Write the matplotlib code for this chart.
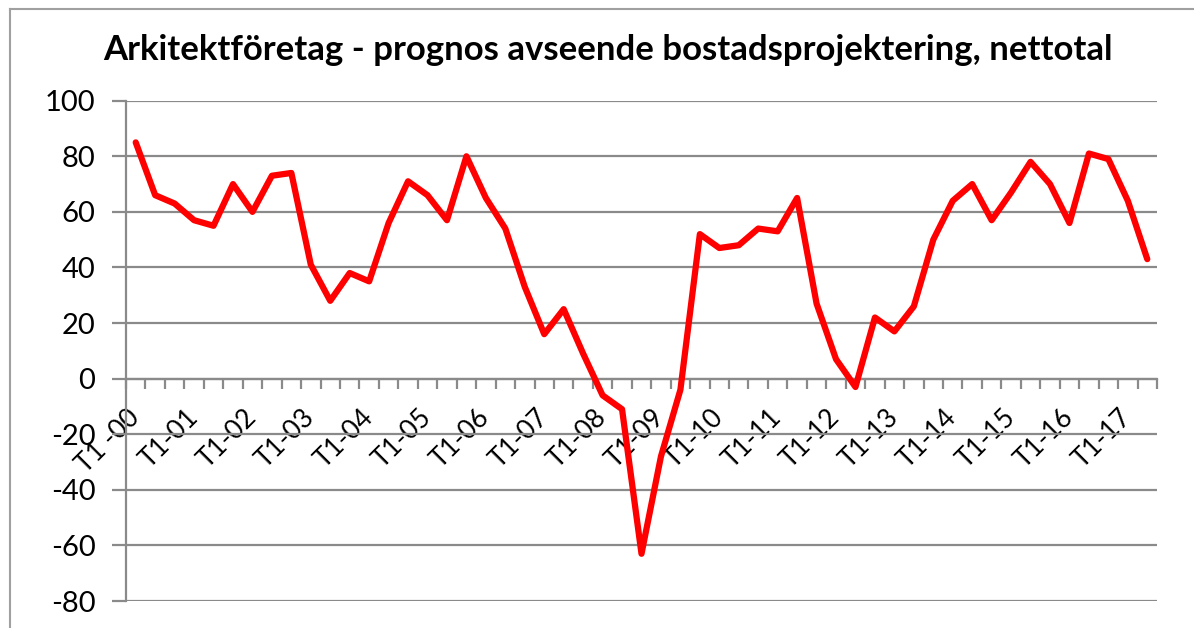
import matplotlib
matplotlib.use('Agg')
import matplotlib.pyplot as plt
from matplotlib.lines import Line2D

# net balance per tertial, T1-00 .. T2-17
values = [85, 66, 63, 57, 55, 70, 60, 73, 74, 41, 28, 38, 35, 56,
          71, 66, 57, 80, 65, 54, 33, 16, 25, 9, -6, -11, -63, -28,
          -4, 52, 47, 48, 54, 53, 65, 27, 7, -3, 22, 17, 26, 50,
          64, 70, 57, 67, 78, 70, 56, 81, 79, 64, 43]
years = ['00', '01', '02', '03', '04', '05', '06', '07', '08',
         '09', '10', '11', '12', '13', '14', '15', '16', '17']
tick_labels = ['T1 -' + years[0]] + ['T1-' + y for y in years[1:]]
yticks = [-80, -60, -40, -20, 0, 20, 40, 60, 80, 100]
title = 'Arkitektföretag - prognos avseende bostadsprojektering, nettotal'

plt.rcParams['font.family'] = ['Lato', 'DejaVu Sans']
plt.rcParams['axes.unicode_minus'] = False
grid_c = '#8a8a8a'

fig = plt.figure(figsize=(11.94, 6.28), dpi=100)
ax = fig.add_axes([126 / 1194, 27 / 628, (1157 - 126) / 1194, (601 - 100.7) / 628])

x = list(range(len(values)))
ax.plot(x, values, color='#ff0000', lw=4.5, solid_joinstyle='round',
        solid_capstyle='round', zorder=3)

ax.set_xlim(-0.5, len(values) - 0.5)
ax.set_ylim(-80, 100)
ax.set_yticks(yticks)
ax.yaxis.grid(True, color=grid_c, lw=1.6)
ax.set_axisbelow(True)

for s in ['top', 'right']:
    ax.spines[s].set_visible(False)
ax.spines['bottom'].set_position(('data', 0))
ax.spines['bottom'].set_color(grid_c)
ax.spines['bottom'].set_linewidth(1.6)
ax.spines['left'].set_color(grid_c)
ax.spines['left'].set_linewidth(1.6)

# category boundary ticks (no labels) and labels every third category
ax.set_xticks([i - 0.5 for i in range(len(values) + 1)])
ax.set_xticklabels([])
ax.set_xticks(x[::3], tick_labels, minor=True)
ax.tick_params(axis='x', which='major', direction='out', length=7, width=1.6, color=grid_c)
ax.tick_params(axis='x', which='minor', length=0, pad=25, labelsize=19)
plt.setp(ax.get_xticklabels(minor=True), rotation=45, ha='right', va='center',
         rotation_mode='anchor')
ax.tick_params(axis='y', direction='out', length=10, width=1.6, color=grid_c,
               labelsize=21, pad=12)

fig.text(608 / 1194, 1 - 50 / 628, title, ha='center', va='center',
         fontsize=25, fontweight='bold')

# outer chart frame
fig.add_artist(Line2D([10 / 1194, 10 / 1194], [0, 1 - 9 / 628], color='#a0a0a0', lw=1.5))
fig.add_artist(Line2D([10 / 1194, 1], [1 - 9 / 628, 1 - 9 / 628], color='#a0a0a0', lw=1.5))

fig.savefig('out.png', dpi=100)
